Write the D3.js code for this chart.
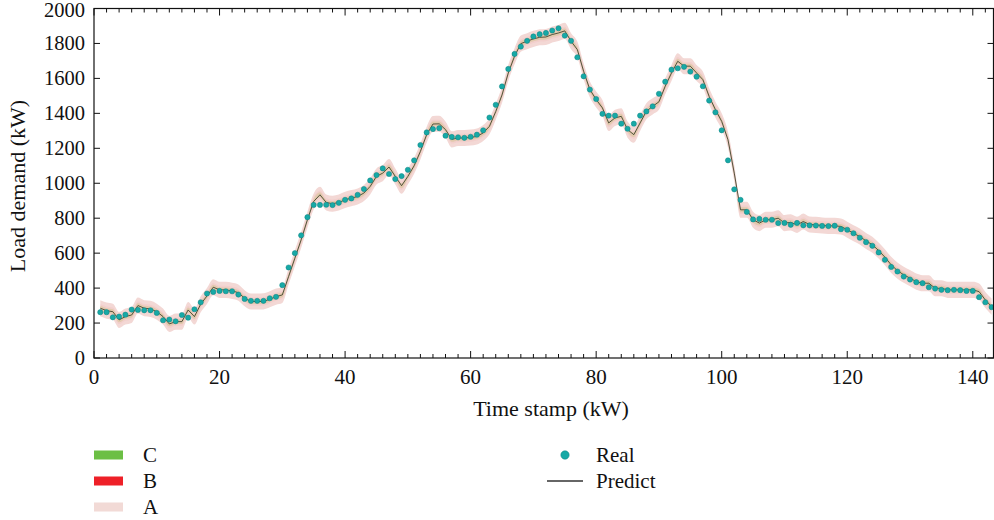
<!DOCTYPE html>
<html><head><meta charset="utf-8">
<script src="https://cdn.jsdelivr.net/npm/d3@7"></script>
<style>
html,body{margin:0;padding:0;background:#fff;}
svg text{font-family:"Liberation Serif","DejaVu Serif",serif;fill:#111;}
</style></head>
<body><svg id="c" width="994" height="520"></svg>
<script>
const realValues = [262,262,233,237,248,277,275,273,273,258,216,220,210,246,231,279,319,369,378,384,
382,382,363,338,327,327,327,342,350,417,518,600,702,806,876,876,877,875,888,905,
913,934,967,1016,1047,1085,1053,1024,1041,1077,1131,1219,1291,1310,1315,1272,1265,1263,1260,1266,
1278,1303,1376,1449,1554,1654,1740,1782,1815,1840,1853,1860,1874,1887,1845,1815,1721,1612,1536,1482,
1397,1387,1387,1341,1312,1341,1387,1411,1440,1512,1581,1650,1658,1666,1639,1610,1555,1473,1406,1303,
1131,965,905,836,793,796,791,791,772,773,762,773,759,759,758,756,755,757,737,734,
714,688,663,642,604,562,521,495,466,449,434,428,405,397,390,388,390,388,384,384,
348,319,291];
const predictValues = [285,271,265,218,237,246,300,285,281,265,237,195,208,208,275,237,308,355,405,390,
390,384,374,342,323,323,324,336,351,361,466,571,676,791,896,934,890,883,890,905,
915,924,944,982,1039,1058,1093,1039,986,1039,1100,1182,1278,1339,1340,1307,1251,1259,1259,1262,
1268,1288,1326,1410,1505,1631,1727,1799,1813,1826,1835,1837,1851,1860,1872,1813,1765,1641,1536,1479,
1431,1345,1374,1383,1307,1278,1345,1412,1440,1466,1555,1631,1698,1670,1670,1631,1593,1497,1421,1354,
1249,1058,848,848,791,772,791,791,800,772,776,762,781,764,762,758,756,756,753,734,
714,695,670,648,615,577,533,500,476,457,437,428,428,399,399,390,390,390,390,390,
380,332,294];
const timeStamps = realValues.map((d,i)=>i+1);
const bandNames = ["C","B","A"];
const bandHalfWidths = [14, 24, 46];
const bandColors = ["#6cbf45","#ee2028","#f2dad6"];
const xTicks = [0,20,40,60,80,100,120,140];
const yTicks = [0,200,400,600,800,1000,1200,1400,1600,1800,2000];

const svg = d3.select("#c");
const L=94, R=993.5, T=8.5, B=358;
const x = d3.scaleLinear().domain([0,143.3]).range([L,R]);
const y = d3.scaleLinear().domain([0,2000]).range([B,T]);

const data = timeStamps.map((t,i)=>({t, r:realValues[i], p:predictValues[i]}));

const g = svg.append("g");
const bandStyle = {A:{fill:"#f3d8d5",op:1}, B:{fill:"#ee2028",op:0.05}, C:{fill:"#a8b840",op:0.22}};
["A","B","C"].forEach(name=>{
  const hw = bandHalfWidths[bandNames.indexOf(name)];
  const area = d3.area().x(d=>x(d.t)).y0(d=>y(d.p-hw)).y1(d=>y(d.p+hw)).curve(d3.curveMonotoneX);
  g.append("path").datum(data).attr("d",area)
   .attr("fill",bandStyle[name].fill).attr("fill-opacity",bandStyle[name].op);
});
const line = d3.line().x(d=>x(d.t)).y(d=>y(d.p));
g.append("path").datum(data).attr("d",line).attr("fill","none").attr("stroke","#2f3320").attr("stroke-width",0.8);
g.selectAll("circle.real").data(data).enter().append("circle").attr("class","real")
 .attr("cx",d=>x(d.t)).attr("cy",d=>y(d.r)).attr("r",2.6)
 .attr("fill","#17a9a6").attr("stroke","#0d8282").attr("stroke-width",0.5);

const ax = svg.append("g").attr("stroke","#111").attr("fill","none");
const xMinor = d3.range(0,144,2);
xMinor.forEach(v=>{
  const major = v%20===0; const len = major?7:4;
  ax.append("line").attr("x1",x(v)).attr("x2",x(v)).attr("y1",B).attr("y2",B-len).attr("stroke-width",1);
  ax.append("line").attr("x1",x(v)).attr("x2",x(v)).attr("y1",T).attr("y2",T+len).attr("stroke-width",1);
});
yTicks.forEach(v=>{
  ax.append("line").attr("x1",L).attr("x2",L+6).attr("y1",y(v)).attr("y2",y(v)).attr("stroke-width",1);
  ax.append("line").attr("x1",R).attr("x2",R-6).attr("y1",y(v)).attr("y2",y(v)).attr("stroke-width",1);
});
ax.append("rect").attr("x",L).attr("y",T).attr("width",R-L).attr("height",B-T).attr("stroke-width",1.2);

svg.append("g").selectAll("text").data(xTicks).enter().append("text")
 .attr("x",d=>x(d)).attr("y",384).attr("text-anchor","middle").attr("font-size",21).text(d=>d);
svg.append("g").selectAll("text").data(yTicks).enter().append("text")
 .attr("x",85).attr("y",d=>Math.max(y(d)+6.5, 17)).attr("text-anchor","end").attr("font-size",20.5).text(d=>d);

svg.append("text").attr("x",551).attr("y",416).attr("text-anchor","middle").attr("font-size",22).text("Time stamp (kW)");
svg.append("text").attr("transform","translate(25,186) rotate(-90)").attr("text-anchor","middle").attr("font-size",22).text("Load demand (kW)");

const leg = svg.append("g");
bandNames.forEach((n,i)=>{
  const yy = 455 + i*26;
  leg.append("rect").attr("x",94).attr("y",yy-4.5).attr("width",29).attr("height",9).attr("fill",bandColors[i]);
  leg.append("text").attr("x",143).attr("y",yy+7).attr("font-size",21).text(n);
});
leg.append("circle").attr("cx",565).attr("cy",455).attr("r",4.2).attr("fill","#17a9a6").attr("stroke","#0d8282").attr("stroke-width",0.5);
leg.append("text").attr("x",596).attr("y",462).attr("font-size",21).text("Real");
leg.append("line").attr("x1",547).attr("x2",583).attr("y1",481).attr("y2",481).attr("stroke","#333").attr("stroke-width",1.3);
leg.append("text").attr("x",596).attr("y",488).attr("font-size",21).text("Predict");
</script></body></html>
